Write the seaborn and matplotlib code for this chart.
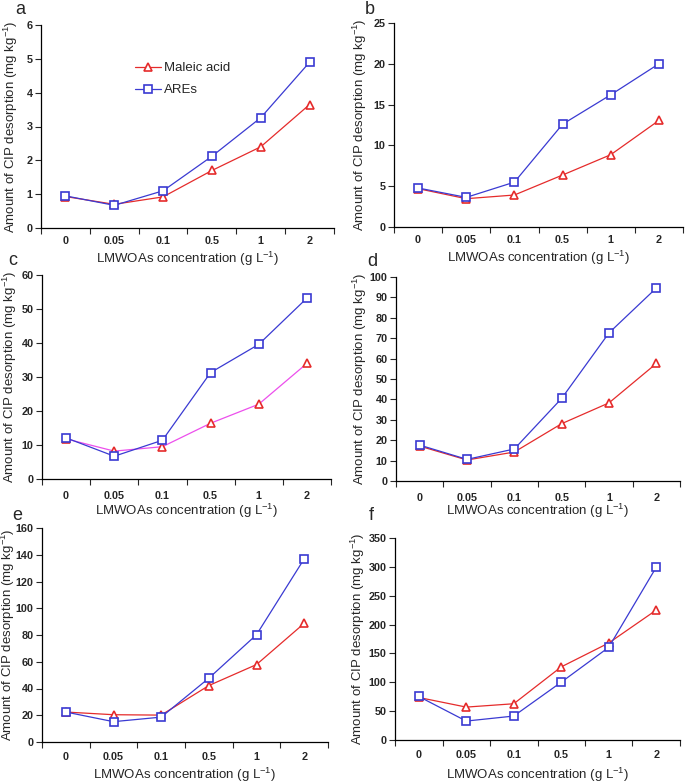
import numpy as np
import pandas as pd
import matplotlib.pyplot as plt
import seaborn as sns

CONC_LABELS = ["0", "0.05", "0.1", "0.5", "1", "2"]
SERIES = ["Maleic acid", "AREs"]

MALEIC_A = [0.93, 0.70, 0.92, 1.70, 2.40, 3.65]
ARES_A = [0.95, 0.67, 1.10, 2.12, 3.26, 4.90]
MALEIC_B = [4.70, 3.47, 3.92, 6.37, 8.86, 13.06]
ARES_B = [4.78, 3.63, 5.50, 12.60, 16.20, 20.00]
MALEIC_C = [11.8, 8.2, 9.5, 16.4, 22.0, 34.0]
ARES_C = [12.1, 6.7, 11.4, 31.3, 39.6, 53.2]
MALEIC_D = [17.1, 10.3, 14.2, 28.1, 38.3, 57.6]
ARES_D = [17.6, 10.6, 15.7, 40.5, 72.6, 94.6]
MALEIC_E = [22.4, 20.4, 20.1, 42.2, 57.9, 88.7]
ARES_E = [22.4, 15.2, 18.6, 47.7, 80.2, 136.9]
MALEIC_F = [73.7, 57.0, 62.8, 126.7, 168.1, 225.1]
ARES_F = [75.4, 32.8, 41.5, 100.2, 160.6, 299.4]

PANEL_LETTERS = ["a", "b", "c", "d", "e", "f"]
Y_MAX = [6, 25, 60, 100, 160, 350]
Y_STEP = [1, 5, 10, 10, 20, 50]

W, H = 685, 783
# axes boxes in pixels: left, right, top, bottom
BOXES = [
    (41, 334, 25, 228), (394, 683, 23, 227),
    (42, 331, 275, 479), (396, 680, 277, 481),
    (42, 328, 528, 742), (395, 680, 538, 740),
]
YLABEL_X = [20, 369, 19, 369, 17, 367]
XLABEL_TOP = [250, 249, 502, 502, 766, 766]
TICK_PAD = [2.0, 2.0, 4.5, 4.5, 3.5, 3.5]
LETTER_POS = [(20, 10), (370, 10), (13, 261), (372, 262), (17, 516), (371, 516)]

RED = "#e52b2b"
BLUE = "#3a3ad2"
MAGENTA = "#ec4fec"


def build_frame(maleic, ares):
    rows = []
    for name, vals in zip(SERIES, [maleic, ares]):
        for i, v in enumerate(vals):
            rows.append({"pos": i, "conc": CONC_LABELS[i], "series": name, "value": v})
    return pd.DataFrame(rows)


def main():
    sns.set_theme(style="ticks")
    plt.rcParams["font.family"] = ["Liberation Sans", "DejaVu Sans"]
    plt.rcParams["mathtext.fontset"] = "custom"
    plt.rcParams["mathtext.rm"] = "Liberation Sans"

    fig = plt.figure(figsize=(W / 100, H / 100), dpi=100)
    data = [
        (MALEIC_A, ARES_A), (MALEIC_B, ARES_B), (MALEIC_C, ARES_C),
        (MALEIC_D, ARES_D), (MALEIC_E, ARES_E), (MALEIC_F, ARES_F),
    ]

    for k, (maleic, ares) in enumerate(data):
        l, r, t, b = BOXES[k]
        ax = fig.add_axes([l / W, (H - b) / H, (r - l) / W, (b - t) / H])
        df = build_frame(maleic, ares)

        line_red = MAGENTA if k == 2 else RED
        for name, lc, mc, mk in [("Maleic acid", line_red, RED, "^"),
                                 ("AREs", BLUE, BLUE, "s")]:
            sub = df[df["series"] == name]
            sns.lineplot(data=sub, x="pos", y="value", ax=ax, color=lc,
                         marker=mk, markersize=6, markerfacecolor="white",
                         markeredgecolor=mc, markeredgewidth=1.2,
                         linewidth=0.9, label=name if k == 0 else None,
                         legend=False)

        ax.set_xlim(-0.5, 5.5)
        ax.set_ylim(0, Y_MAX[k])
        yt = np.arange(0, Y_MAX[k] + 0.01, Y_STEP[k])
        ax.set_yticks(yt)
        ax.set_yticklabels([f"{v:g}" for v in yt], fontweight="bold", fontsize=7.8)
        ax.set_xticks(np.arange(-0.5, 5.6, 1.0))
        ax.set_xticklabels([])
        ax.set_xticks(range(6), minor=True)
        ax.set_xticklabels(CONC_LABELS, minor=True, fontweight="bold", fontsize=7.8)
        ax.tick_params(axis="x", which="major", direction="out", length=4, width=0.8)
        ax.tick_params(axis="x", which="minor", length=0, pad=TICK_PAD[k] + 4)
        ax.tick_params(axis="y", direction="out", length=4, width=0.8, pad=2)
        sns.despine(ax=ax)
        for s in ["left", "bottom"]:
            ax.spines[s].set_linewidth(0.9)
            ax.spines[s].set_color("black")

        ax.set_xlabel("LMWOAs concentration (g L$^{-1}$)", fontsize=9.5)
        ax.set_ylabel("Amount of CIP desorption (mg kg$^{-1}$)", fontsize=9.5)
        ax.xaxis.set_label_coords(0.5, (b - XLABEL_TOP[k]) / (b - t))
        ax.yaxis.set_label_coords((YLABEL_X[k] - l) / (r - l), 0.5)

        lx, ly = LETTER_POS[k]
        fig.text(lx / W, 1 - ly / H, PANEL_LETTERS[k], fontsize=13,
                 ha="center", va="center")

        if k == 0:
            ax.legend(loc="upper left", bbox_to_anchor=((135 - l) / (r - l), (b - 62) / (b - t)),
                      frameon=False, fontsize=9.5, handlelength=2.0, borderpad=0,
                      handletextpad=0.2, labelspacing=0.75, borderaxespad=0)

    fig.savefig("out.png", dpi=100)


if __name__ == "__main__":
    main()
